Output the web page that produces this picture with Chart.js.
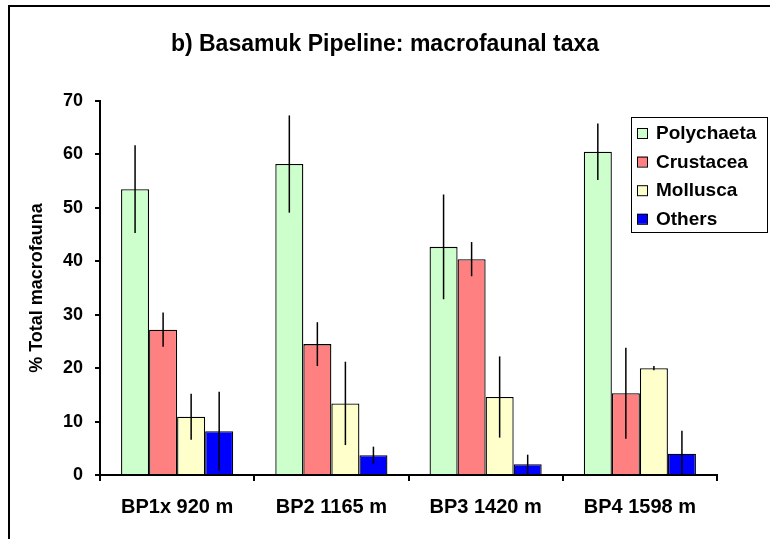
<!DOCTYPE html>
<html>
<head>
<meta charset="utf-8">
<script src="https://cdn.jsdelivr.net/npm/chart.js@4/dist/chart.umd.min.js"></script>
<style>
  html, body { margin: 0; padding: 0; background: #fff; }
  #wrap { width: 770px; height: 539px; position: relative; }
</style>
</head>
<body>
<div id="wrap"><canvas id="taxaChart"></canvas></div>
<script>
// Basamuk pipeline macrofaunal taxa (% of total macrofauna, mean +/- error)
const categories = ['BP1x 920 m', 'BP2 1165 m', 'BP3 1420 m', 'BP4 1598 m'];
const yTicks = [0, 10, 20, 30, 40, 50, 60, 70];

const polychaeta = [53.5, 58.2, 42.7, 60.5];
const polychaetaErr = [8.2, 9.1, 9.8, 5.3];
const crustacea = [27.2, 24.5, 40.4, 15.3];
const crustaceaErr = [3.2, 4.1, 3.2, 8.5];
const mollusca = [10.9, 13.4, 14.6, 20.0];
const molluscaErr = [4.3, 7.8, 7.6, 0.4];
const others = [8.2, 3.7, 2.0, 4.0];
const othersErr = [7.4, 1.6, 1.8, 4.3];

const FONT = '"Liberation Sans", Arial, Helvetica, sans-serif';

(function () {
  const series = [
    { label: 'Polychaeta', data: polychaeta, err: polychaetaErr, color: '#ccffcc' },
    { label: 'Crustacea', data: crustacea, err: crustaceaErr, color: '#ff8080' },
    { label: 'Mollusca', data: mollusca, err: molluscaErr, color: '#ffffcc' },
    { label: 'Others', data: others, err: othersErr, color: '#0000ff' }
  ];

  // outer frame and white background
  const framePlugin = {
    id: 'frame',
    beforeDraw(chart) {
      const ctx = chart.ctx;
      ctx.save();
      ctx.fillStyle = '#fff';
      ctx.fillRect(0, 0, chart.width, chart.height);
      ctx.strokeStyle = '#000';
      ctx.lineWidth = 2;
      ctx.beginPath();
      ctx.moveTo(9, chart.height);
      ctx.lineTo(9, 6);
      ctx.lineTo(chart.width, 6);
      ctx.stroke();
      ctx.restore();
    }
  };

  // vertical error lines, no caps
  const errorBarPlugin = {
    id: 'errorBars',
    afterDatasetsDraw(chart) {
      const ctx = chart.ctx;
      const y = chart.scales.y;
      ctx.save();
      ctx.strokeStyle = '#000';
      ctx.lineWidth = 1.5;
      series.forEach((s, i) => {
        const meta = chart.getDatasetMeta(i);
        meta.data.forEach((bar, j) => {
          const v = s.data[j];
          const e = s.err[j];
          ctx.beginPath();
          ctx.moveTo(bar.x, y.getPixelForValue(v + e));
          ctx.lineTo(bar.x, y.getPixelForValue(Math.max(v - e, 0)));
          ctx.stroke();
        });
      });
      ctx.restore();
    }
  };

  // boxed legend in the upper right corner
  const legendBoxPlugin = {
    id: 'legendBox',
    afterDraw(chart) {
      const ctx = chart.ctx;
      const left = 631, top = 117, w = 136, h = 115;
      ctx.save();
      ctx.fillStyle = '#fff';
      ctx.fillRect(left, top, w, h);
      ctx.strokeStyle = '#000';
      ctx.lineWidth = 1;
      ctx.strokeRect(left + 0.5, top + 0.5, w, h);
      ctx.font = 'bold 19px ' + FONT;
      ctx.textBaseline = 'middle';
      series.forEach((s, i) => {
        const cy = 133 + i * 28.6;
        ctx.fillStyle = s.color;
        ctx.fillRect(637, cy - 5, 10, 10);
        ctx.strokeStyle = '#000';
        ctx.strokeRect(637.5, cy - 4.5, 10, 10);
        ctx.fillStyle = '#000';
        ctx.fillText(s.label, 656, cy + 1);
      });
      ctx.restore();
    }
  };

  const ctx = document.getElementById('taxaChart').getContext('2d');
  new Chart(ctx, {
    type: 'bar',
    data: {
      labels: categories,
      datasets: series.map(s => ({
        label: s.label,
        data: s.data,
        backgroundColor: s.color,
        borderColor: '#000',
        borderWidth: 1.3,
        categoryPercentage: 0.727,
        barPercentage: 1
      }))
    },
    options: {
      responsive: true,
      maintainAspectRatio: false,
      animation: false,
      layout: { padding: 0 },
      plugins: {
        legend: { display: false },
        tooltip: { enabled: false },
        title: {
          display: true,
          text: 'b) Basamuk Pipeline: macrofaunal taxa',
          color: '#000',
          font: { family: FONT, size: 23, weight: 'bold' },
          padding: { top: 31, bottom: 42.4 }
        }
      },
      scales: {
        x: {
          grid: { drawOnChartArea: false, tickLength: 6, color: '#000', lineWidth: 2 },
          border: { color: '#000', width: 2 },
          ticks: {
            color: '#000',
            padding: 14,
            font: { family: FONT, size: 20, weight: 'bold' }
          },
          afterFit(scale) { scale.height = 64; }
        },
        y: {
          min: 0,
          max: 70,
          afterBuildTicks(scale) { scale.ticks = yTicks.map(v => ({ value: v })); },
          grid: { drawOnChartArea: false, tickLength: 5, color: '#000', lineWidth: 2 },
          border: { color: '#000', width: 2 },
          ticks: {
            color: '#000',
            padding: 12,
            font: { family: FONT, size: 18, weight: 'bold' }
          },
          title: {
            display: true,
            text: '% Total macrofauna',
            color: '#000',
            font: { family: FONT, size: 18, weight: 'bold' },
            padding: { top: 26, bottom: 0 }
          },
          afterFit(scale) { scale.width = 100; }
        },
        // empty spacer on the right so the title centres on the whole frame
        spacer: {
          type: 'linear',
          position: 'right',
          display: true,
          grid: { display: false },
          border: { display: false },
          ticks: { display: false },
          afterFit(scale) { scale.width = 53; }
        }
      }
    },
    plugins: [framePlugin, errorBarPlugin, legendBoxPlugin]
  });
})();
</script>
</body>
</html>
